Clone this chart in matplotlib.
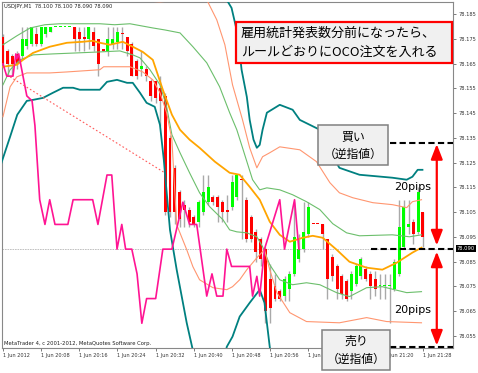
import numpy as np
import matplotlib.pyplot as plt
from matplotlib.patches import Rectangle

plt.rcParams['font.family'] = ['Noto Sans CJK JP', 'DejaVu Sans']

# ---- USDJPY M1, 1 Jun 2012 20:00 - 21:28 (minute index 0 = 20:00) ----
opens = [78.176, 78.170, 78.168, 78.169, 78.168, 78.172, 78.173, 78.177, 78.173, 78.177,
         78.178, 78.180, 78.180, 78.180, 78.180, 78.180, 78.178, 78.176, 78.175, 78.178,
         78.175, 78.171, 78.170, 78.173, 78.174, 78.177, 78.176, 78.173, 78.166, 78.163,
         78.163, 78.158, 78.158, 78.155, 78.152, 78.135, 78.123, 78.113, 78.108, 78.106,
         78.103, 78.101, 78.105, 78.109, 78.111, 78.111, 78.109, 78.106, 78.107, 78.111,
         78.118, 78.110, 78.103, 78.097, 78.094, 78.090, 78.078, 78.075, 78.073, 78.071,
         78.074, 78.080, 78.086, 78.090, 78.096, 78.100, 78.100, 78.100, 78.094, 78.087,
         78.083, 78.079, 78.077, 78.073, 78.076, 78.079, 78.082, 78.080, 78.078, 78.075,
         78.075, 78.075, 78.074, 78.080, 78.091, 78.099, 78.101, 78.097, 78.105]
highs = [78.177, 78.171, 78.169, 78.170, 78.180, 78.180, 78.180, 78.180, 78.180, 78.180,
         78.180, 78.180, 78.180, 78.180, 78.180, 78.180, 78.180, 78.180, 78.180, 78.180,
         78.175, 78.171, 78.180, 78.180, 78.180, 78.180, 78.176, 78.174, 78.167, 78.170,
         78.164, 78.159, 78.158, 78.160, 78.153, 78.136, 78.124, 78.114, 78.110, 78.107,
         78.104, 78.110, 78.120, 78.120, 78.112, 78.112, 78.110, 78.112, 78.120, 78.120,
         78.120, 78.111, 78.104, 78.098, 78.095, 78.091, 78.084, 78.080, 78.074, 78.079,
         78.081, 78.109, 78.096, 78.109, 78.109, 78.100, 78.100, 78.100, 78.094, 78.088,
         78.084, 78.080, 78.078, 78.081, 78.084, 78.087, 78.083, 78.081, 78.081, 78.080,
         78.080, 78.080, 78.086, 78.110, 78.110, 78.110, 78.102, 78.115, 78.105]
lows = [78.164, 78.160, 78.160, 78.163, 78.167, 78.171, 78.172, 78.172, 78.172, 78.176,
        78.178, 78.180, 78.180, 78.180, 78.180, 78.170, 78.170, 78.170, 78.171, 78.170,
        78.160, 78.170, 78.168, 78.171, 78.171, 78.171, 78.168, 78.160, 78.159, 78.160,
        78.158, 78.150, 78.149, 78.140, 78.104, 78.103, 78.100, 78.099, 78.099, 78.099,
        78.099, 78.099, 78.104, 78.108, 78.108, 78.101, 78.101, 78.101, 78.106, 78.110,
        78.094, 78.093, 78.093, 78.085, 78.083, 78.060, 78.060, 78.069, 78.069, 78.069,
        78.069, 78.079, 78.085, 78.089, 78.095, 78.100, 78.100, 78.090, 78.070, 78.077,
        78.070, 78.070, 78.069, 78.070, 78.075, 78.078, 78.077, 78.070, 78.071, 78.070,
        78.070, 78.060, 78.073, 78.079, 78.090, 78.096, 78.092, 78.096, 78.091]
closes = [78.165, 78.165, 78.165, 78.165, 78.175, 78.175, 78.180, 78.173, 78.180, 78.180,
          78.180, 78.180, 78.180, 78.180, 78.180, 78.175, 78.175, 78.175, 78.180, 78.172,
          78.165, 78.170, 78.175, 78.175, 78.178, 78.177, 78.170, 78.160, 78.160, 78.164,
          78.160, 78.152, 78.151, 78.150, 78.105, 78.105, 78.105, 78.102, 78.106, 78.101,
          78.100, 78.109, 78.113, 78.115, 78.109, 78.107, 78.105, 78.105, 78.117, 78.120,
          78.118, 78.094, 78.094, 78.089, 78.086, 78.065, 78.066, 78.070, 78.070, 78.078,
          78.080, 78.095, 78.090, 78.097, 78.107, 78.100, 78.100, 78.096, 78.078, 78.079,
          78.074, 78.072, 78.070, 78.080, 78.083, 78.086, 78.078, 78.075, 78.074, 78.075,
          78.075, 78.075, 78.085, 78.099, 78.107, 78.100, 78.096, 78.113, 78.095]
minutes = np.arange(len(opens))

# ---- indicator lines (minute, price) ----
ma_t = [0, 2.9, 4.2, 6.3, 9.8, 13.4, 16.7, 18.8, 20.3, 22.4, 25.1, 27.2, 29.3, 31.4, 33.5, 35.4,
        37.1, 39.1, 41.2, 44.4, 47.5, 49.6, 51.7, 53.8, 55.9, 58.0, 60.1, 62.8, 64.9, 67.0,
        69.9, 72.6, 76.2, 79.5, 82.5, 85.8, 87.7]
ma_p = [78.1638, 78.1646, 78.1666, 78.1694, 78.1719, 78.1735, 78.1739, 78.1743, 78.1735, 78.1727,
        78.1739, 78.1719, 78.1698, 78.1666, 78.1545, 78.1444, 78.1383, 78.1343, 78.1310, 78.1254,
        78.1209, 78.1201, 78.1152, 78.1100, 78.1011, 78.0958, 78.0930, 78.0946, 78.0954, 78.0946,
        78.0898, 78.0849, 78.0825, 78.0817, 78.0845, 78.0886, 78.0906]

bb1_up_t = [0, 2.9, 5.7, 8.8, 11.9, 16.1, 20.3, 23.4, 26.6, 31.4, 33.9, 37.1, 39.8, 42.7, 45.4,
            47.5, 49.0, 50.2, 52.3, 53.8, 55.3, 58.0, 60.7, 63.6, 66.4, 69.1, 72.0, 74.7, 81.6,
            85.2, 87.7]
bb1_up_p = [78.1727, 78.1763, 78.1795, 78.1808, 78.1812, 78.1812, 78.1812, 78.1808, 78.1812, 78.1795,
            78.1787, 78.1775, 78.1719, 78.1654, 78.1557, 78.1452, 78.1383, 78.1310, 78.1181, 78.1140,
            78.1148, 78.1140, 78.1120, 78.1092, 78.1060, 78.1003, 78.0966, 78.0954, 78.0958, 78.0950,
            78.0958]
bb1_lo_t = [0, 1.5, 3.6, 6.3, 10.5, 15.5, 20.3, 24.5, 27.2, 28.7, 30.8, 32.9, 34.3, 35.4, 37.1,
            39.1, 41.2, 43.3, 46.1, 47.5, 49.0, 51.1, 53.2, 54.4, 55.9, 58.0, 60.7, 63.6, 66.4,
            69.9, 72.6, 76.2, 79.5, 84.6, 87.7]
bb1_lo_p = [78.1565, 78.1626, 78.1666, 78.1686, 78.1690, 78.1694, 78.1698, 78.1702, 78.1686, 78.1674,
            78.1626, 78.1565, 78.1476, 78.1363, 78.1290, 78.1209, 78.1128, 78.1072, 78.1019, 78.0978,
            78.0970, 78.0966, 78.0950, 78.0910, 78.0837, 78.0776, 78.0756, 78.0764, 78.0756, 78.0724,
            78.0708, 78.0744, 78.0748, 78.0724, 78.0728]

bb2_up_t = [11.9, 18.2, 22.4, 28.7, 32.9, 39.1, 42.7, 44.8, 46.5, 48.1, 50.2, 51.7, 53.2, 54.4,
            55.9, 58.0, 62.2, 65.7, 68.5, 70.5, 73.3, 77.5, 81.6, 84.6, 85.8, 87.7]
bb2_up_p = [78.1933, 78.1909, 78.1905, 78.1905, 78.1901, 78.1909, 78.1909, 78.1828, 78.1727, 78.1565,
            78.1423, 78.1310, 78.1229, 78.1274, 78.1290, 78.1314, 78.1302, 78.1254, 78.1169, 78.1128,
            78.1108, 78.1088, 78.1080, 78.1068, 78.1092, 78.1100]
bb2_lo_t = [0, 1.5, 2.9, 5.0, 9.8, 13.4, 20.3, 21.1, 26.6, 29.3, 31.4, 32.9, 34.3, 35.4, 36.4,
            38.5, 39.8, 41.2, 44.0, 46.9, 48.1, 49.6, 51.1, 53.2, 54.8, 55.9, 57.4, 60.1, 63.6,
            70.5, 76.2, 80.4, 87.7]
bb2_lo_p = [78.1436, 78.1557, 78.1597, 78.1613, 78.1613, 78.1617, 78.1626, 78.1638, 78.1638, 78.1617,
            78.1585, 78.1533, 78.1452, 78.1343, 78.0999, 78.0898, 78.0829, 78.0776, 78.0744, 78.0736,
            78.0748, 78.0776, 78.0817, 78.0865, 78.0898, 78.0817, 78.0724, 78.0643, 78.0607, 78.0602,
            78.0623, 78.0607, 78.0602]

bb3_up_t = [46.5, 47.9, 49.2, 50.0, 51.1, 51.7, 52.5, 53.2, 53.8, 54.4, 55.3, 58.0, 60.7, 62.2,
            64.3, 66.4, 68.5, 70.5, 74.7, 81.6, 84.6, 85.8, 86.9, 87.9]
bb3_up_p = [78.1921, 78.1876, 78.1767, 78.1626, 78.1516, 78.1423, 78.1343, 78.1310, 78.1322, 78.1383,
            78.1452, 78.1484, 78.1464, 78.1423, 78.1403, 78.1383, 78.1294, 78.1229, 78.1201, 78.1189,
            78.1181, 78.1193, 78.1221, 78.1221]
bb3_lo_t = [-0.6, 1.5, 3.0, 5.0, 6.3, 8.4, 10.5, 12.6, 14.7, 16.1, 20.3, 21.8, 23.9, 26.0, 27.2,
            28.7, 30.1, 31.8, 32.9, 33.7, 35.0, 36.4, 38.5, 40.0, 41.2, 45.4, 46.9, 48.1, 49.6,
            51.7, 53.8, 54.8, 55.9, 56.9]
bb3_lo_p = [78.1233, 78.1355, 78.1444, 78.1500, 78.1504, 78.1512, 78.1533, 78.1553, 78.1553, 78.1545,
            78.1545, 78.1577, 78.1585, 78.1573, 78.1573, 78.1533, 78.1492, 78.1476, 78.1403, 78.1262,
            78.0978, 78.0817, 78.0602, 78.0473, 78.0372, 78.0372, 78.0505, 78.0546, 78.0627, 78.0683,
            78.0736, 78.0683, 78.0505, 78.0372]

# lagging line (pink)
lag_t = [0, 0.8, 2.1, 2.7, 2.9, 3.3, 5.0, 6.1, 6.7, 7.7, 8.8, 9.8, 10.9, 13.6, 14.7, 18.8, 19.9,
         21.8, 22.8, 23.9, 24.9, 25.7, 27.0, 28.1, 29.1, 30.1, 32.0, 33.5, 35.4, 37.7, 39.1, 40.6,
         42.7, 43.8, 44.8, 46.1, 46.9, 47.9, 51.7, 52.3, 53.2, 53.8, 54.8, 58.0, 59.0, 61.1, 62.0]
lag_p = [78.165, 78.160, 78.160, 78.169, 78.167, 78.169, 78.152, 78.150, 78.140, 78.110, 78.100,
         78.110, 78.100, 78.100, 78.110, 78.110, 78.100, 78.120, 78.120, 78.090, 78.100, 78.090,
         78.090, 78.080, 78.060, 78.070, 78.070, 78.090, 78.090, 78.109, 78.100, 78.100, 78.071,
         78.080, 78.071, 78.071, 78.090, 78.083, 78.083, 78.071, 78.079, 78.071, 78.090, 78.110,
         78.090, 78.110, 78.090]

trend_t = [1.5, 33.9]
trend_p = [78.1597, 78.1209]

bid = 78.090
buy_stop = 78.133
sell_stop = 78.0505

price_ticks = [78.055, 78.065, 78.075, 78.085, 78.095, 78.105, 78.115, 78.125,
               78.135, 78.145, 78.155, 78.165, 78.175, 78.185]
tick_minutes = [0, 8, 16, 24, 32, 40, 48, 56, 64, 72, 80, 88]
tick_labels = ['1 Jun 2012', '1 Jun 20:08', '1 Jun 20:16', '1 Jun 20:24', '1 Jun 20:32',
               '1 Jun 20:40', '1 Jun 20:48', '1 Jun 20:56', '1 Jun 21:04', '1 Jun 21:12',
               '1 Jun 21:20', '1 Jun 21:28']

fig = plt.figure(figsize=(4.78, 3.73), dpi=100)
ax = fig.add_axes([2/478, 25/373, 451/478, 346/373])
ax.set_xlim(-0.2, 94.3)
ax.set_ylim(78.0500, 78.1900)

# candles
up_c, dn_c = '#00ff00', '#ff0000'
colors = []
prev = up_c
for i, (o, c) in enumerate(zip(opens, closes)):
    if c > o:
        col = up_c
    elif c < o:
        col = dn_c
    elif i > 0 and c < closes[i-1]:
        col = dn_c
    elif i > 0 and c > closes[i-1]:
        col = up_c
    else:
        col = prev
    colors.append(col)
    prev = col

ax.vlines(minutes, lows, highs, color='#a9a9a9', lw=1, zorder=2)
bottoms = np.minimum(opens, closes)
heights = np.maximum(np.abs(np.subtract(closes, opens)), 0.0004)
ax.bar(minutes, heights, width=0.62, bottom=bottoms, color=colors, linewidth=0, zorder=3)

# indicators
ax.plot(bb1_up_t, bb1_up_p, color='#6cbf6c', lw=0.8, zorder=4)
ax.plot(bb1_lo_t, bb1_lo_p, color='#6cbf6c', lw=0.8, zorder=4)
ax.plot(bb2_up_t, bb2_up_p, color='#ff9670', lw=0.8, zorder=4)
ax.plot(bb2_lo_t, bb2_lo_p, color='#ff9670', lw=0.8, zorder=4)
ax.plot(bb3_up_t, bb3_up_p, color='#008080', lw=1.3, zorder=4)
ax.plot(bb3_lo_t, bb3_lo_p, color='#008080', lw=1.3, zorder=4)
ax.plot(ma_t, ma_p, color='#ffa500', lw=1.3, zorder=5)
ax.plot(lag_t, lag_p, color='#ff1493', lw=1.2, zorder=5)
ax.plot(trend_t, trend_p, color='#ff5a5a', lw=0.8, ls=(0, (1.5, 2)), zorder=5)

ax.axhline(bid, color='#b8b8b8', lw=0.6, ls=(0, (2, 1)), zorder=1)

# OCO lines and arrows
ax.plot([81.0, 94.3], [buy_stop, buy_stop], color='black', lw=1.5, ls=(0, (3, 1.6)), zorder=6, clip_on=False)
ax.plot([77.2, 94.3], [bid, bid], color='black', lw=1.5, ls=(0, (3, 1.6)), zorder=6, clip_on=False)
ax.plot([81.0, 94.3], [sell_stop, sell_stop], color='black', lw=1.5, ls=(0, (3, 1.6)), zorder=6, clip_on=False)
arrow = dict(arrowstyle='<|-|>,head_length=0.9,head_width=0.35', color='#ff0000', lw=1.6,
             mutation_scale=10, shrinkA=0, shrinkB=0)
ax.annotate('', xy=(90.9, 78.0915), xytext=(90.9, 78.1325), arrowprops=arrow, zorder=7)
ax.annotate('', xy=(90.9, 78.0510), xytext=(90.9, 78.0890), arrowprops=arrow, zorder=7,
            annotation_clip=False)

# axes look
for s in ax.spines.values():
    s.set_color('#888888')
    s.set_linewidth(0.8)
ax.yaxis.tick_right()
ax.set_yticks(price_ticks)
ax.set_yticklabels(['%.3f' % p for p in price_ticks], fontsize=3.7, family='DejaVu Sans', color='#333333')
ax.set_xticks(tick_minutes)
ax.set_xticklabels(tick_labels, fontsize=3.6, family='DejaVu Sans', color='#333333', ha='left')
ax.tick_params(axis='y', length=2.5, width=0.6, pad=1.2, color='#666666')
ax.tick_params(axis='x', length=2.0, width=0.6, pad=1.5, color='#666666')

# overlay in pixel coordinates for texts and boxes
ov = fig.add_axes([0, 0, 1, 1], zorder=5)
ov.set_xlim(0, 478)
ov.set_ylim(373, 0)
ov.axis('off')

ov.text(4, 6.5, 'USDJPY,M1  78.100 78.100 78.090 78.090', fontsize=3.7, family='DejaVu Sans',
        va='center', ha='left', color='#222222')
ov.text(4, 343.5, 'MetaTrader 4, c 2001-2012, MetaQuotes Software Corp.', fontsize=3.8,
        family='DejaVu Sans', va='center', ha='left', color='#222222')
ov.text(466, 248.5, '78.090', fontsize=3.7, family='DejaVu Sans', color='white', ha='center',
        va='center', bbox=dict(facecolor='black', edgecolor='none', pad=0.8))

ov.add_patch(Rectangle((236, 22), 216, 41, facecolor='#f0f0f0', edgecolor='#ff0000', lw=1.6))
ov.text(241, 33, '雇用統計発表数分前になったら、', fontsize=9.4, va='center', ha='left')
ov.text(241, 52.5, 'ルールどおりにOCO注文を入れる', fontsize=9.4, va='center', ha='left')

ov.add_patch(Rectangle((318.5, 125), 70, 40, facecolor='#f0f0f0', edgecolor='#808080', lw=1.1))
ov.text(353.5, 137, '買い', fontsize=8.6, va='center', ha='center')
ov.text(353.5, 154.5, '（逆指値）', fontsize=8.5, va='center', ha='center')

ov.add_patch(Rectangle((322, 330), 68, 40, facecolor='#f0f0f0', edgecolor='#808080', lw=1.1))
ov.text(356, 341, '売り', fontsize=8.6, va='center', ha='center')
ov.text(356, 359, '（逆指値）', fontsize=8.5, va='center', ha='center')

ov.text(412.5, 187.5, '20pips', fontsize=8, family='DejaVu Sans', va='center', ha='center')
ov.text(412.5, 310, '20pips', fontsize=8, family='DejaVu Sans', va='center', ha='center')

fig.savefig('out.png', dpi=100, facecolor='white')
